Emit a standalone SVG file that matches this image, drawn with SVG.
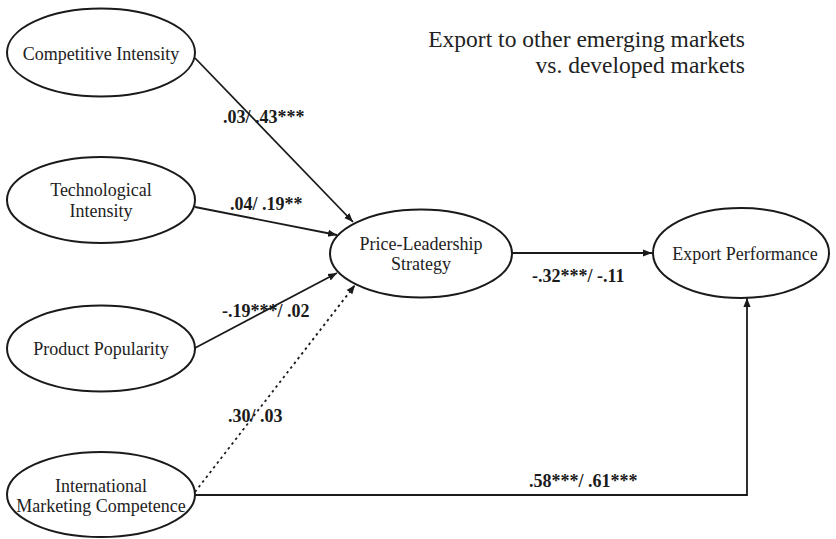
<svg xmlns="http://www.w3.org/2000/svg" width="836" height="539" viewBox="0 0 836 539">
<defs>
<marker id="ah" viewBox="0 0 10 10" refX="10" refY="5" markerWidth="9" markerHeight="9" markerUnits="userSpaceOnUse" orient="auto">
<path d="M0,1 L10,5 L0,9 z" fill="#1a1a1a"/>
</marker>
<style>
.node ellipse{fill:#fff;stroke:#1a1a1a;stroke-width:2}
.node text{font-family:"Liberation Serif","Times New Roman",serif;font-size:18px;fill:#222;text-anchor:middle}
.edge{fill:none;stroke:#1a1a1a;stroke-width:1.8}
.dot{stroke-dasharray:2.5 3.5}
.lbl{font-family:"Liberation Serif","Times New Roman",serif;font-size:18px;font-weight:bold;fill:#1a1a1a}
.title{font-family:"Liberation Serif","Times New Roman",serif;font-size:23.5px;fill:#222;text-anchor:end}
</style>
</defs>
<rect width="836" height="539" fill="#fff"/>
<g id="connectors">
<line class="edge" x1="195" y1="58" x2="353" y2="222" marker-end="url(#ah)"/>
<line class="edge" x1="195" y1="207" x2="337" y2="235" marker-end="url(#ah)"/>
<line class="edge" x1="195" y1="348" x2="337" y2="273" marker-end="url(#ah)"/>
<line class="edge dot" x1="195" y1="492" x2="355" y2="285" marker-end="url(#ah)"/>
<line class="edge" x1="512" y1="253" x2="652" y2="253" marker-end="url(#ah)"/>
<polyline class="edge" points="193,495 747,495 747,298" marker-end="url(#ah)"/>
<text class="lbl" x="223" y="123">.03/ .43***</text>
<text class="lbl" x="230" y="210">.04/ .19**</text>
<text class="lbl" x="222" y="317">-.19***/ .02</text>
<text class="lbl" x="228" y="422">.30/ .03</text>
<text class="lbl" x="532" y="282">-.32***/ -.11</text>
<text class="lbl" x="529" y="487">.58***/ .61***</text>
</g>
<g id="competitive-intensity" class="node">
<ellipse cx="101" cy="52.5" rx="94" ry="44"/>
<text x="101" y="60">Competitive Intensity</text>
</g>
<g id="technological-intensity" class="node">
<ellipse cx="101" cy="200" rx="94" ry="43"/>
<text x="101" y="196">Technological</text>
<text x="101" y="217">Intensity</text>
</g>
<g id="product-popularity" class="node">
<ellipse cx="101" cy="348.5" rx="94" ry="43"/>
<text x="101" y="355">Product Popularity</text>
</g>
<g id="international-marketing-competence" class="node">
<ellipse cx="101" cy="494.5" rx="94" ry="42.5"/>
<text x="101" y="492">International</text>
<text x="101" y="512">Marketing Competence</text>
</g>
<g id="price-leadership-strategy" class="node">
<ellipse cx="421" cy="253.5" rx="91" ry="44"/>
<text x="421" y="250">Price-Leadership</text>
<text x="421" y="270">Strategy</text>
</g>
<g id="export-performance" class="node">
<ellipse cx="741" cy="253" rx="88" ry="45"/>
<text x="745" y="260">Export Performance</text>
</g>
<g id="title">
<text class="title" x="745" y="47">Export to other emerging markets</text>
<text class="title" x="745" y="73">vs. developed markets</text>
</g>
</svg>
